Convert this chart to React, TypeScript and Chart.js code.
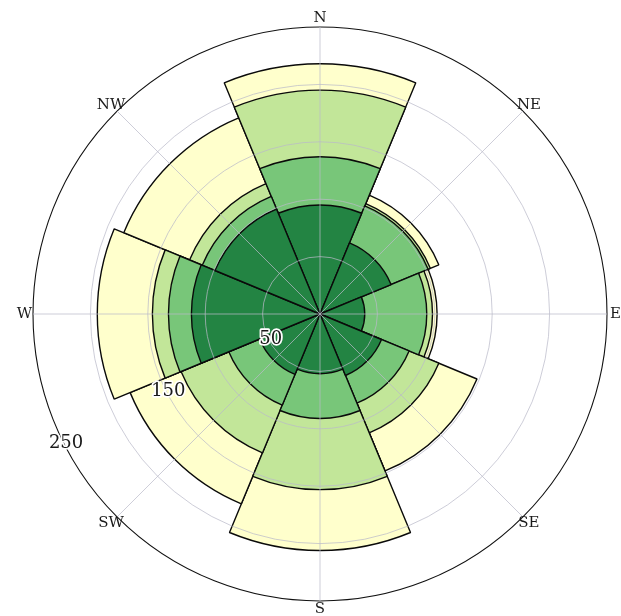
import React, { useEffect, useRef } from 'react';
import { Chart, PolarAreaController, ArcElement, RadialLinearScale } from 'chart.js';

Chart.register(PolarAreaController, ArcElement, RadialLinearScale);

// Wind directions (clockwise from north)
const DIRECTIONS = ['N', 'NE', 'E', 'SE', 'S', 'SW', 'W', 'NW'];
// Counts per speed bin, stacked outward
const BIN_1 = [95, 67, 39, 58, 52, 57, 112, 99];
const BIN_2 = [42, 35, 54, 26, 39, 29, 20, 12];
const BIN_3 = [58, 2, 5, 28, 62, 45, 14, 12];
const BIN_4 = [23, 8, 4, 36, 53, 48, 48, 62];
const BIN_COLORS = ['#238443', '#78c679', '#c2e699', '#ffffcc'];
const R_LABEL_TICKS = [50, 150, 250];
const R_MAX = 250;
const R_STEP = 50;

const roseLabels = {
  id: 'roseLabels',
  afterDraw(chart: any) {
    const scale = chart.scales.r;
    const ctx = chart.ctx;
    ctx.save();
    ctx.textAlign = 'center';
    ctx.textBaseline = 'middle';
    ctx.fillStyle = '#1a1a1a';
    ctx.font = '15px "DejaVu Serif", serif';
    const outer = scale.getDistanceFromCenterForValue(R_MAX) + 8.5;
    DIRECTIONS.forEach((d, k) => {
      const p = scale.getPointPosition(2 * k + 1, outer);
      ctx.fillText(d, p.x, p.y);
    });
    ctx.font = '18px "DejaVu Serif", serif';
    const ang = Math.PI - (27 * Math.PI) / 180;
    R_LABEL_TICKS.forEach((v) => {
      const r = scale.getDistanceFromCenterForValue(v) - 2;
      const x = scale.xCenter + r * Math.cos(ang);
      const y = scale.yCenter + r * Math.sin(ang);
      ctx.lineWidth = 3.5;
      ctx.lineJoin = 'round';
      ctx.strokeStyle = '#ffffff';
      ctx.strokeText(String(v), x, y);
      ctx.fillText(String(v), x, y);
    });
    ctx.restore();
  },
};

export default function App() {
  const ref = useRef<HTMLCanvasElement | null>(null);

  useEffect(() => {
    if (!ref.current) return;
    const bins = [BIN_1, BIN_2, BIN_3, BIN_4];
    const cumulative: number[][] = [];
    bins.forEach((b, i) => {
      cumulative.push(b.map((v, j) => v + (i > 0 ? cumulative[i - 1][j] : 0)));
    });
    const chart = new Chart(ref.current, {
      type: 'polarArea',
      data: {
        labels: DIRECTIONS.flatMap((d) => ['', d]),
        datasets: cumulative.map((vals, i) => ({
          data: vals,
          backgroundColor: BIN_COLORS[i],
          borderColor: '#0a0a0a',
          borderWidth: 1.4,
        })),
      },
      options: {
        animation: false,
        responsive: true,
        maintainAspectRatio: false,
        layout: { padding: { left: 33, right: 14, top: 27, bottom: 15 } },
        scales: {
          r: {
            min: 0,
            max: R_MAX,
            startAngle: -22.5,
            ticks: { display: false, stepSize: R_STEP },
            grid: {
              z: 1,
              circular: true,
              color: (c: any) => (c.tick && c.tick.value === R_MAX ? '#111111' : 'rgba(185,185,200,0.9)'),
              lineWidth: (c: any) => (c.tick && c.tick.value === R_MAX ? 1.1 : 0.8),
            },
            angleLines: {
              display: true,
              color: (c: any) => (c.index % 2 === 1 ? 'rgba(185,185,200,0.9)' : 'rgba(0,0,0,0)'),
              lineWidth: (c: any) => (c.index % 2 === 1 ? 0.8 : 0),
            },
            pointLabels: { display: false },
          },
        },
      } as any,
      plugins: [roseLabels],
    });
    return () => chart.destroy();
  }, []);

  return (
    <div style={{ position: 'fixed', left: 0, top: 0, width: 621, height: 616, background: '#fff' }}>
      <canvas ref={ref} />
    </div>
  );
}
